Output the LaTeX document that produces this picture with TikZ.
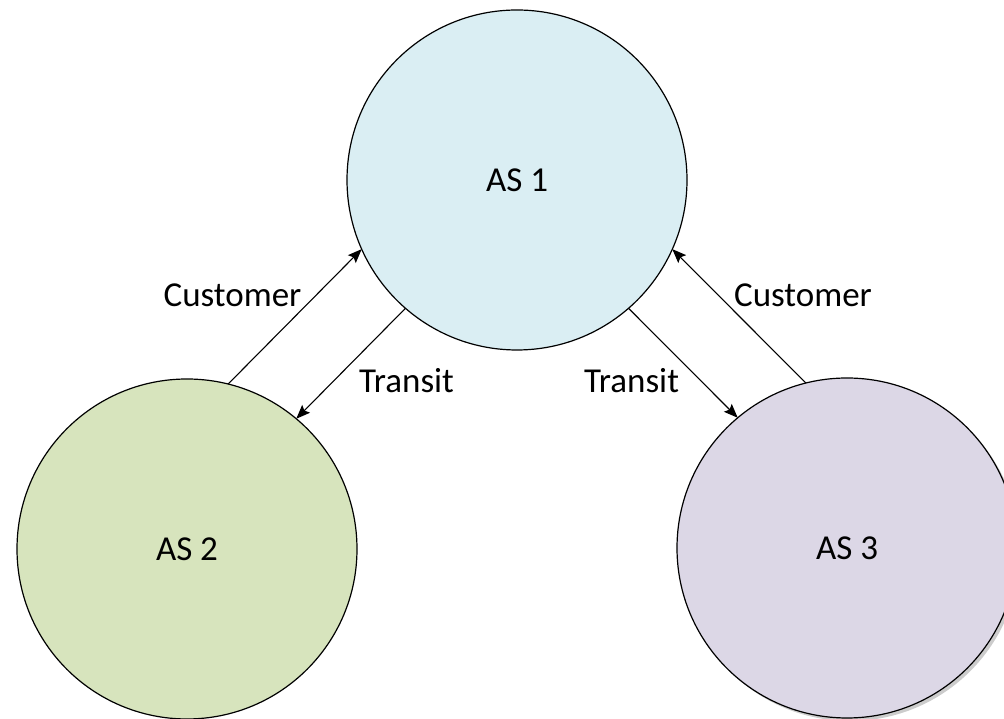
\documentclass[tikz,border=0pt]{standalone}
\usepackage{fontspec}
\setmainfont{Carlito}
\usetikzlibrary{arrows.meta,positioning,shapes,shadows}
\definecolor{as1fill}{HTML}{DAEEF3}
\definecolor{as2fill}{HTML}{D7E4BD}
\definecolor{as3fill}{HTML}{DCD7E6}

\begin{document}
\begin{tikzpicture}[x=1pt,y=1pt,
  as/.style={circle,draw,line width=1.2pt,minimum size=340pt,inner sep=0pt,outer sep=0pt},
  rel/.style={-{Stealth[length=14pt,width=11pt,inset=2.5pt]},line width=1.1pt},
  lbl/.style={anchor=base,inner sep=0pt},
  every node/.style={font=\fontsize{35}{42}\selectfont}]
  \useasboundingbox (0,0) rectangle (1004,719);

  % autonomous systems
  \node[as,fill=as1fill] (as1) at (517,539) {AS 1};
  \node[as,fill=as2fill] (as2) at (187,170) {AS 2};
  \node[as,fill=as3fill,drop shadow={shadow xshift=3pt,shadow yshift=-3pt,fill=black!40}] (as3) at (847,171) {AS 3};

  % relationships
  \draw[rel] (as2.76) -- (as1.204);
  \draw[rel] (as1.229) -- (as2.50);
  \draw[rel] (as3.104) -- (as1.336);
  \draw[rel] (as1.311) -- (as3.130);

  \node[lbl] (cust2) at (232.5,412) {Customer};
  \node[lbl] (tran2) at (406.5,326) {Transit};
  \node[lbl] (tran3) at (631.5,326) {Transit};
  \node[lbl] (cust3) at (803,412) {Customer};
\end{tikzpicture}
\end{document}
